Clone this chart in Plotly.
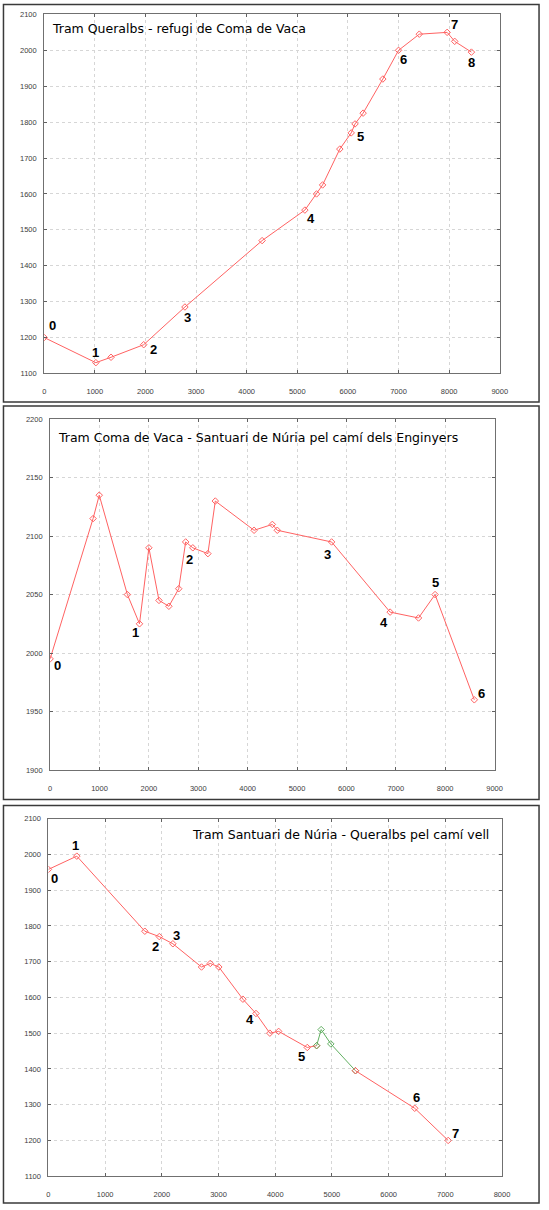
import plotly.graph_objects as go

W, H = 549, 1210

# ---------------- data ----------------
# Panel 1: Tram Queralbs - refugi de Coma de Vaca
p1_dist = [0, 1020, 1320, 1965, 2780, 4305, 5150, 5380, 5500, 5840, 6065, 6140, 6300, 6690, 7000, 7410, 7960, 8110, 8440]
p1_alt = [1200, 1130, 1145, 1180, 1285, 1470, 1555, 1600, 1625, 1725, 1770, 1795, 1825, 1920, 2000, 2045, 2050, 2025, 1995]
p1_label_idx = [0, 1, 3, 4, 6, 10, 14, 16, 18]
p1_label_txt = ["0", "1", "2", "3", "4", "5", "6", "7", "8"]

# Panel 2: Tram Coma de Vaca - Santuari de Núria pel camí dels Enginyers
p2_dist = [0, 870, 995, 1565, 1810, 2000, 2205, 2405, 2605, 2745, 2890, 3195, 3345, 4130, 4500, 4600, 5700, 6885, 7460, 7795, 8590]
p2_alt = [1995, 2115, 2135, 2050, 2025, 2090, 2045, 2040, 2055, 2095, 2090, 2085, 2130, 2105, 2110, 2105, 2095, 2035, 2030, 2050, 1960]
p2_label_idx = [0, 4, 9, 16, 17, 19, 20]
p2_label_txt = ["0", "1", "2", "3", "4", "5", "6"]

# Panel 3: Tram Santuari de Núria - Queralbs pel camí vell
p3a_dist = [0, 500, 1700, 1955, 2195, 2700, 2855, 3005, 3430, 3660, 3905, 4060, 4565, 4730]
p3a_alt = [1958, 1995, 1785, 1770, 1750, 1685, 1695, 1685, 1595, 1555, 1500, 1505, 1460, 1465]
p3g_dist = [4730, 4810, 4980, 5415]
p3g_alt = [1465, 1510, 1470, 1395]
p3b_dist = [5415, 6460, 7050]
p3b_alt = [1395, 1290, 1200]
p3_label_dist = [0, 500, 1955, 2195, 3660, 4565, 6460, 7050]
p3_label_alt = [1958, 1995, 1770, 1750, 1555, 1460, 1290, 1200]
p3_label_txt = ["0", "1", "2", "3", "4", "5", "6", "7"]

titles = ["Tram Queralbs - refugi de Coma de Vaca",
          "Tram Coma de Vaca - Santuari de Núria pel camí dels Enginyers",
          "Tram Santuari de Núria - Queralbs pel camí vell"]

# ---------------- style ----------------
RED = "#ff6262"
GREEN = "#62b062"
p1_off = [(8, 12), (0, 10), (10, -5), (3, -10), (6, -8), (9, -4), (5, -9), (7, 8), (0, -10)]
p2_off = [(7, -7), (-4, -9), (4, -18), (-4, -13), (-6, -10), (0, 12), (7, 6)]
p3_off = [(6, -9), (-1, 11), (-4, -10), (4, 8), (-6, -6), (-6, -9), (2, 11), (7, 7)]


def px(x):
    return x / W


def py(y):
    return 1 - y / H


fig = go.Figure()


def line_trace(x, y, color, ax):
    fig.add_trace(go.Scatter(
        x=x, y=y, mode="lines+markers", xaxis="x" + ax, yaxis="y" + ax,
        line=dict(color=color, width=1),
        marker=dict(symbol="diamond-open", size=5, color=color, line=dict(width=1, color=color)),
        showlegend=False, hoverinfo="x+y"))


line_trace(p1_dist, p1_alt, RED, "")
line_trace(p2_dist, p2_alt, RED, "2")
line_trace(p3a_dist, p3a_alt, RED, "3")
line_trace(p3g_dist, p3g_alt, GREEN, "3")
line_trace(p3b_dist, p3b_alt, RED, "3")

annotations = []
lab_font = dict(family="Liberation Sans, Arial, sans-serif", size=13, color="black")


def add_labels(xs, ys, txts, offs, ax):
    for x, y, t, (dx, dy) in zip(xs, ys, txts, offs):
        annotations.append(dict(x=x, y=y, xref="x" + ax, yref="y" + ax, text="<b>%s</b>" % t,
                                showarrow=False, xanchor="center", yanchor="middle",
                                xshift=dx, yshift=dy, font=lab_font))


add_labels([p1_dist[i] for i in p1_label_idx], [p1_alt[i] for i in p1_label_idx], p1_label_txt, p1_off, "")
add_labels([p2_dist[i] for i in p2_label_idx], [p2_alt[i] for i in p2_label_idx], p2_label_txt, p2_off, "2")
add_labels(p3_label_dist, p3_label_alt, p3_label_txt, p3_off, "3")

title_font = dict(family="DejaVu Sans, Verdana, sans-serif", size=12.5, color="black")
annotations.append(dict(x=px(49), y=py(25), xref="paper", yref="paper", text=titles[0], showarrow=False,
                        xanchor="left", yanchor="middle", font=title_font))
annotations.append(dict(x=px(55), y=py(436.7), xref="paper", yref="paper", text=titles[1], showarrow=False,
                        xanchor="left", yanchor="middle", font=title_font))
annotations.append(dict(x=px(498), y=py(836.7), xref="paper", yref="paper", text=titles[2], showarrow=False,
                        xanchor="right", yanchor="middle", font=title_font))

# panel frames
shapes = []
for (y0, y1) in [(0.5, 401), (405, 801.5), (807.5, 1208)]:
    shapes.append(dict(type="rect", xref="paper", yref="paper", x0=px(1.5), x1=px(547),
                       y0=py(y1), y1=py(y0), line=dict(color="#3a3a3a", width=1.5), layer="below",
                       fillcolor="white"))

tick_font = dict(family="Liberation Sans, Arial, sans-serif", size=7.5, color="#3c3c3c")
axis_common = dict(showline=True, linecolor="#707070", linewidth=1, mirror="ticks",
                   ticks="inside", ticklen=3, tickcolor="#606060",
                   showgrid=True, gridcolor="#d6d6d6", griddash="dot", gridwidth=1,
                   zeroline=False, tickfont=tick_font, fixedrange=True)

layout = dict(
    width=W, height=H, margin=dict(l=0, r=0, t=0, b=0),
    paper_bgcolor="white", plot_bgcolor="white",
    annotations=annotations, shapes=shapes,
    xaxis=dict(domain=[px(43), px(507)], range=[0, 9000], dtick=1000, anchor="y",
               ticklabelstandoff=11, **axis_common),
    yaxis=dict(domain=[py(372.2), py(10.5)], range=[1100, 2100], dtick=100, anchor="x",
               ticklabelstandoff=5, **axis_common),
    xaxis2=dict(domain=[px(49), px(501.7)], range=[0, 9000], dtick=1000, anchor="y2",
                ticklabelstandoff=11, **axis_common),
    yaxis2=dict(domain=[py(771.7), py(418.3)], range=[1900, 2200], dtick=50, anchor="x2",
                ticklabelstandoff=5, **axis_common),
    xaxis3=dict(domain=[px(47.3), px(509.3)], range=[0, 8000], dtick=1000, anchor="y3",
                ticklabelstandoff=11, **axis_common),
    yaxis3=dict(domain=[py(1181), py(820.7)], range=[1100, 2100], dtick=100, anchor="x3",
                ticklabelstandoff=5, **axis_common),
)
fig.update_layout(**layout)

fig.write_html("out.html")
